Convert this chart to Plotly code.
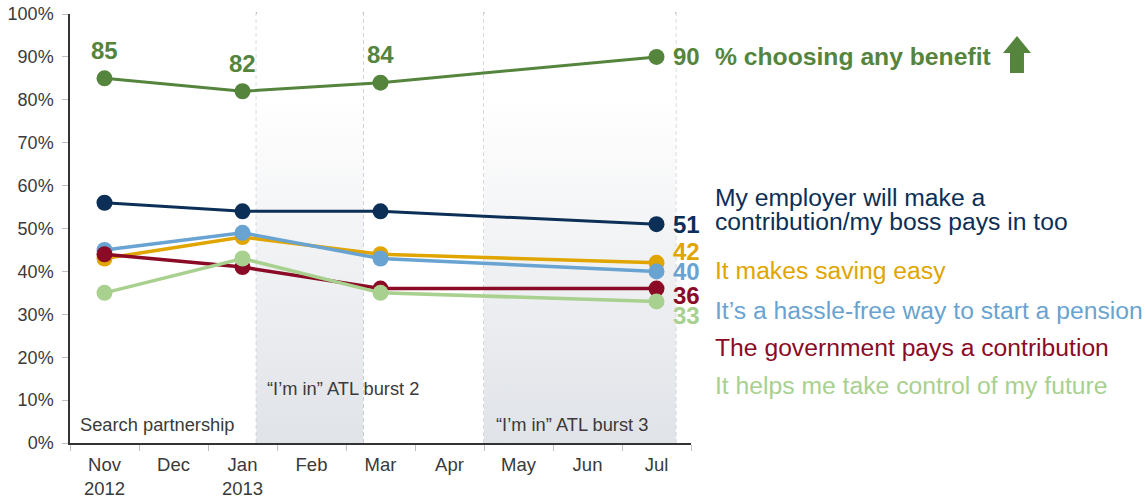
import plotly.graph_objects as go

# Survey months (category positions 0..8 on the x axis)
months = ["Nov<br>2012", "Dec", "Jan<br>2013", "Feb", "Mar", "Apr", "May", "Jun", "Jul"]
wave_idx = [0, 2, 4, 8]  # Nov, Jan, Mar, Jul survey waves

any_benefit = [85, 82, 84, 90]
employer = [56, 54, 54, 51]
saving_easy = [43, 48, 44, 42]
hassle_free = [45, 49, 43, 40]
government = [44, 41, 36, 36]
take_control = [35, 43, 35, 33]

GREEN = "#55843d"
NAVY = "#0b2f56"
GOLD = "#e0a500"
BLUE = "#69a3d1"
RED = "#8b0b26"
LGREEN = "#a8d08e"
TXT = "#3a3a3a"
FONT = "Arial, Liberation Sans, sans-serif"

# campaign bursts (x in category units)
bursts = [(2.2, 3.75), (5.5, 8.28)]

fig = go.Figure()

for x0, x1 in bursts:
    fig.add_trace(go.Scatter(
        x=[x0, x1, x1, x0, x0], y=[0, 0, 100, 100, 0],
        mode="lines", line=dict(width=0), fill="toself",
        fillgradient=dict(type="vertical",
                          colorscale=[[0, "#e0e3e8"], [0.45, "#f1f2f4"], [0.8, "#ffffff"], [1, "#ffffff"]]),
        hoverinfo="skip", showlegend=False))

series = [
    ("saving_easy", saving_easy, GOLD, 3.5),
    ("hassle_free", hassle_free, BLUE, 3.5),
    ("government", government, RED, 3.5),
    ("take_control", take_control, LGREEN, 3.5),
    ("employer", employer, NAVY, 3),
    ("any_benefit", any_benefit, GREEN, 3),
]
for name, vals, col, w in series:
    fig.add_trace(go.Scatter(
        x=wave_idx, y=vals, name=name, mode="lines+markers",
        line=dict(color=col, width=w), marker=dict(color=col, size=16),
        showlegend=False, cliponaxis=False))

for x0, x1 in bursts:
    for xv in (x0, x1):
        fig.add_shape(type="line", xref="x", yref="paper", x0=xv, x1=xv, y0=0, y1=1.008,
                      line=dict(color="#aab1bb", width=1, dash="4px,3px"), layer="below")

annotations = []
# value labels above the first three waves of the headline series
for xi, v in zip(wave_idx[:3], any_benefit[:3]):
    annotations.append(dict(x=xi, y=v, text=f"<b>{v}</b>", showarrow=False, yshift=28,
                            font=dict(size=24, color=GREEN, family=FONT)))

# end-of-line value labels (vertical nudges keep them apart)
end_labels = [(any_benefit, GREEN, 0), (employer, NAVY, 0), (saving_easy, GOLD, 11),
              (hassle_free, BLUE, 0), (government, RED, -7), (take_control, LGREEN, -14)]
for vals, col, dy in end_labels:
    annotations.append(dict(x=wave_idx[-1], y=vals[-1], text=f"<b>{vals[-1]}</b>", showarrow=False,
                            xanchor="left", xshift=14, yshift=dy,
                            font=dict(size=24, color=col, family=FONT)))

# series names to the right of the plot
lx = 1.0354
names = [
    ("<b>% choosing any benefit</b>", GREEN, 90.2),
    ("My employer will make a", NAVY, 57.3),
    ("contribution/my boss pays in too", NAVY, 51.7),
    ("It makes saving easy", GOLD, 40.1),
    ("It’s a hassle-free way to start a pension", BLUE, 31.0),
    ("The government pays a contribution", RED, 22.3),
    ("It helps me take control of my future", LGREEN, 13.5),
]
for txt, col, yv in names:
    annotations.append(dict(x=lx, xref="paper", y=yv, yref="y", text=txt, showarrow=False,
                            xanchor="left", yanchor="middle",
                            font=dict(size=24.7, color=col, family=FONT)))

# campaign labels
for txt, xv, yv in [("Search partnership", -0.39, 4.4),
                    ("“I’m in” ATL burst 2", 2.32, 12.8),
                    ("“I’m in” ATL burst 3", 5.64, 4.4)]:
    annotations.append(dict(x=xv, y=yv, text=txt, showarrow=False, xanchor="left", yanchor="middle",
                            font=dict(size=18.3, color=TXT, family=FONT)))

# upward arrow next to the headline label
def px_x(p):
    return (p - 70) / 621


def px_y(p):
    return (443 - p) / 429


arrow_pts = [(1017, 36), (1031, 53), (1024, 53), (1024, 73), (1010, 73), (1010, 53), (1003, 53)]
arrow_path = "M " + " L ".join(f"{px_x(a):.4f} {px_y(b):.4f}" for a, b in arrow_pts) + " Z"
fig.add_shape(type="path", xref="paper", yref="paper", path=arrow_path,
              fillcolor=GREEN, line=dict(width=0))

fig.update_layout(
    width=1145, height=497,
    margin=dict(l=70, r=454, t=14, b=54),
    plot_bgcolor="white", paper_bgcolor="white",
    font=dict(family=FONT, color=TXT, size=18),
    annotations=annotations,
    xaxis=dict(range=[-0.5, 8.5], tickmode="array", tickvals=list(range(9)), ticktext=months,
               ticks="", showgrid=False, zeroline=False, showline=True, linecolor="#333333",
               linewidth=1.5, tickfont=dict(size=18.5, color=TXT), automargin=False,
               ticklabelstandoff=4,
               minor=dict(tickmode="linear", tick0=-0.5, dtick=1, ticks="outside", ticklen=6,
                          tickcolor="#bfbfbf", showgrid=False)),
    yaxis=dict(range=[0, 100], tickvals=list(range(0, 101, 10)),
               ticktext=[f"{v}%" for v in range(0, 101, 10)],
               ticks="outside", ticklen=6, tickcolor="#bfbfbf", showgrid=False, zeroline=False,
               showline=True, linecolor="#333333", linewidth=1.5, automargin=False,
               ticklabelstandoff=5, tickfont=dict(size=18, color=TXT)),
)

fig.write_html("out.html")
